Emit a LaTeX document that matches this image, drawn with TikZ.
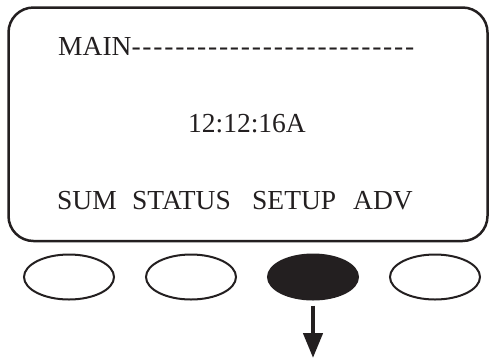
\documentclass[tikz,border=0pt]{standalone}
\usepackage{fontspec}
\setmainfont{Liberation Serif}
\usepackage{tikz}
\usetikzlibrary{positioning,shapes.geometric,arrows.meta}
\definecolor{ink}{HTML}{231F20}

\begin{document}
\begin{tikzpicture}[x=1pt,y=-1pt,
	screen/.style={draw=ink,line width=2.5pt,rounded corners=25pt},
	lcd/.style={inner sep=0pt,anchor=base west,text=ink,font=\fontsize{27.5}{30}\selectfont},
	button/.style={ellipse,draw=ink,line width=2pt,minimum width=90pt,minimum height=45pt,inner sep=0pt},
	pressed/.style={button,fill=ink},
	press/.style={draw=ink,line width=4.5pt,-{Triangle[length=25pt,width=19pt]},shorten <=5pt}]
		\useasboundingbox (0,0) rectangle (489,360);
		\draw[screen] (8.5,7.5) rectangle (487.5,241);

		\node[lcd] (title) at (58,55) {MAIN{\addfontfeature{LetterSpace=6.5,Ligatures=TeXOff}--------------------------}};
		\node[lcd] (clock) at (188,132.5) {12:12:16A};
		\node[lcd] (sum) at (57,209) {SUM};
		\node[lcd] (status) at (132,209) {STATUS};
		\node[lcd] (setup) at (252,209) {SETUP};
		\node[lcd] (adv) at (353,209) {ADV};

		\node[button] (b1) at (69,277) {};
		\node[button] (b2) [right=30pt of b1] {};
		\node[pressed] (b3) [right=30pt of b2] {};
		\node[button] (b4) [right=30pt of b3] {};

		\coordinate (tip) at (b3.south |- 0,358);
		\draw[press] (b3.south) -- (tip);
	\end{tikzpicture}
\end{document}
